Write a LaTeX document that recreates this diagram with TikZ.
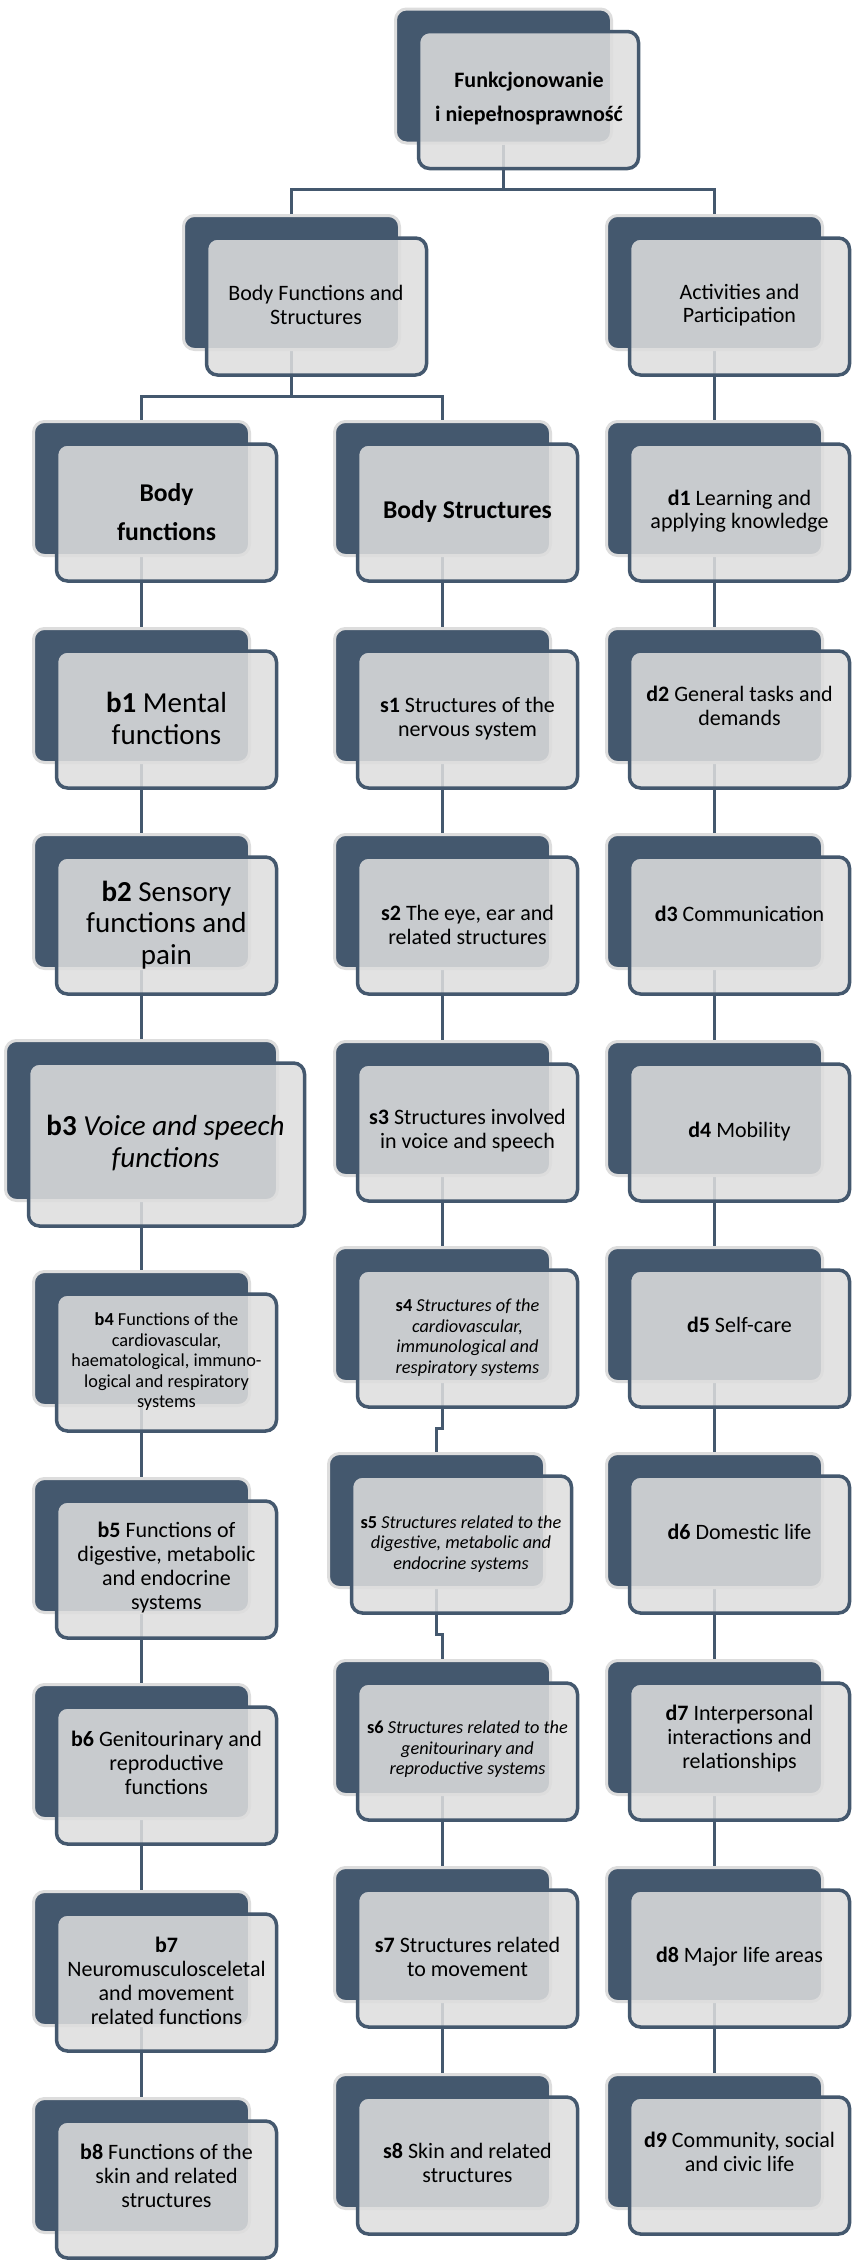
\documentclass[tikz,border=0pt]{standalone}
\usepackage{fontspec}
\setmainfont{Carlito}
\usetikzlibrary{calc}
\definecolor{icfdark}{HTML}{44586E}
\definecolor{icfhalo}{HTML}{DDDDDD}
\definecolor{icffill}{HTML}{DEDEDE}
\pgfdeclarelayer{background}
\pgfsetlayers{background,main}
\tikzset{
  backbox/.style={rectangle, rounded corners=11pt, fill=icfdark, draw=icfhalo, line width=3pt, inner sep=0pt},
  frontbox/.style={rectangle, rounded corners=11pt, fill=icffill, fill opacity=0.86, draw=icfdark, draw opacity=1, line width=3.5pt, inner sep=0pt},
  txt/.style={align=center, inner sep=0pt, text=black},
  link/.style={draw=icfdark, line width=3pt},
  fT/.style={font=\fontsize{22}{34}\selectfont\bfseries},
  fN/.style={font=\fontsize{22}{23.5}\selectfont},
  fM/.style={font=\fontsize{22}{24}\selectfont},
  fS/.style={font=\fontsize{18.3}{20.5}\selectfont},
  fL/.style={font=\fontsize{29}{31.5}\selectfont},
  fH/.style={font=\fontsize{25.6}{39}\selectfont\bfseries},
}
\newcommand\icfpair[5]{%
  \node[backbox, minimum width=#4pt, minimum height=#5pt] (#1-b) at (#2,#3) {};
  \node[frontbox, minimum width=#4pt+4pt, minimum height=#5pt+3pt] (#1-f) at (#2+25,#3+24) {};
}
\begin{document}
\begin{tikzpicture}[x=1pt, y=-1pt]
\useasboundingbox (0,0) rectangle (854,2262);

% ---- boxes ----
\icfpair{top}{503.5}{76}{216}{134}
\icfpair{bfs}{291.5}{282.5}{216}{134}
\icfpair{ap}{714.5}{282.5}{216}{134}

\icfpair{bf}{141.5}{488.5}{216}{134}
\icfpair{bs}{442.5}{488.5}{216}{134}
\icfpair{d1}{714.5}{488.5}{216}{134}

\icfpair{b1}{141.5}{695.5}{216}{134}
\icfpair{s1}{442.5}{695.5}{216}{134}
\icfpair{d2}{714.5}{695.5}{216}{134}

\icfpair{b2}{141.5}{901.5}{216}{134}
\icfpair{s2}{442.5}{901.5}{216}{134}
\icfpair{d3}{714.5}{901.5}{216}{134}

\icfpair{b3}{141.5}{1120.5}{272}{160}
\icfpair{s3}{442.5}{1108.5}{216}{134}
\icfpair{d4}{714.5}{1108.5}{216}{134}

\icfpair{b4}{141.5}{1338.5}{216}{134}
\icfpair{s4}{442.5}{1314.5}{216}{134}
\icfpair{d5}{714.5}{1314.5}{216}{134}

\icfpair{b5}{141.5}{1545.5}{216}{134}
\icfpair{s5}{436.5}{1520.5}{216}{134}
\icfpair{d6}{714.5}{1520.5}{216}{134}

\icfpair{b6}{141.5}{1751.5}{216}{134}
\icfpair{s6}{442.5}{1727.5}{216}{134}
\icfpair{d7}{714.5}{1727.5}{216}{134}

\icfpair{b7}{141.5}{1958.5}{216}{134}
\icfpair{s7}{442.5}{1934.5}{216}{134}
\icfpair{d8}{714.5}{1934.5}{216}{134}

\icfpair{b8}{141.5}{2165.5}{216}{134}
\icfpair{s8}{442.5}{2141.5}{216}{134}
\icfpair{d9}{714.5}{2141.5}{216}{134}

% ---- texts ----
\node[txt, fT] (top-t) at (529,99) {Funkcjonowanie\\i niepełnosprawność};
\node[txt, fN] (bfs-t) at (316,305) {Body Functions and\\Structures};
\node[txt, fN] (ap-t) at (739.5,305) {Activities and\\Participation};

\node[txt, fH] (bf-t) at (166.5,512) {Body\\functions};
\node[txt, fH] (bs-t) at (467.5,512) {Body Structures};
\node[txt, fN] (d1-t) at (739.5,511) {\textbf{d1} Learning and\\applying knowledge};

\node[txt, fL] (b1-t) at (166.5,718.5) {\textbf{b1} Mental\\functions};
\node[txt, fM] (s1-t) at (467.5,719) {\textbf{s1} Structures of the\\nervous system};
\node[txt, fM] (d2-t) at (739.5,706) {\textbf{d2} General tasks and\\demands};

\node[txt, fL] (b2-t) at (166.5,925) {\textbf{b2} Sensory\\functions and\\pain};
\node[txt, fM] (s2-t) at (467.5,925.4) {\textbf{s2} The eye, ear and\\related structures};
\node[txt, fM] (d3-t) at (739.5,913.4) {\textbf{d3} Communication};

\node[txt, fL] (b3-t) at (165.5,1143) {\textbf{b3} \textit{Voice and speech}\\\textit{functions}};
\node[txt, fM] (s3-t) at (467.5,1131) {\textbf{s3} Structures involved\\in voice and speech};
\node[txt, fM] (d4-t) at (739.5,1132) {\textbf{d4} Mobility};

\node[txt, fS] (b4-t) at (166.5,1362) {\textbf{b4} Functions of the\\cardiovascular,\\haematological, immuno-\\logical and respiratory\\systems};
\node[txt, fS] (s4-t) at (467.5,1337.5) {\textbf{s4} \textit{Structures of the}\\\textit{cardiovascular,}\\\textit{immunological and}\\\textit{respiratory systems}};
\node[txt, fM] (d5-t) at (739.5,1325) {\textbf{d5} Self-care};

\node[txt, fM] (b5-t) at (166.5,1567.5) {\textbf{b5} Functions of\\digestive, metabolic\\and endocrine\\systems};
\node[txt, fS] (s5-t) at (461,1544) {\textbf{s5} \textit{Structures related to the}\\\textit{digestive, metabolic and}\\\textit{endocrine systems}};
\node[txt, fM] (d6-t) at (739.5,1531.7) {\textbf{d6} Domestic life};

\node[txt, fM] (b6-t) at (166.5,1763) {\textbf{b6} Genitourinary and\\reproductive\\functions};
\node[txt, fS] (s6-t) at (467.5,1749.5) {\textbf{s6} \textit{Structures related to the}\\\textit{genitourinary and}\\\textit{reproductive systems}};
\node[txt, fM] (d7-t) at (739.5,1738.5) {\textbf{d7} Interpersonal\\interactions and\\relationships};

\node[txt, fM] (b7-t) at (166.5,1981) {\textbf{b7}\\Neuromusculosceletal\\and movement\\related functions};
\node[txt, fM] (s7-t) at (467.5,1956.7) {\textbf{s7} Structures related\\to movement};
\node[txt, fM] (d8-t) at (739.5,1956.7) {\textbf{d8} Major life areas};

\node[txt, fM] (b8-t) at (166.5,2176) {\textbf{b8} Functions of the\\skin and related\\structures};
\node[txt, fM] (s8-t) at (467.5,2163.4) {\textbf{s8} Skin and related\\structures};
\node[txt, fM] (d9-t) at (739.5,2151.7) {\textbf{d9} Community, social\\and civic life};

% ---- connectors (behind the boxes) ----
\begin{pgfonlayer}{background}
  \fill[white] (0,0) rectangle (854,2262);
  \draw[link] (top-b.south) |- ($(top-b.south |- top-f.south)!.45!(bfs-b.north)$) -| (bfs-b.north);
  \draw[link] (top-b.south) |- ($(top-b.south |- top-f.south)!.45!(ap-b.north)$) -| (ap-b.north);
  \draw[link] (bfs-b.south) |- ($(bfs-b.south |- bfs-f.south)!.45!(bf-b.north)$) -| (bf-b.north);
  \draw[link] (bfs-b.south) |- ($(bfs-b.south |- bfs-f.south)!.45!(bs-b.north)$) -| (bs-b.north);
  \draw[link] (ap-b.south) -- (d1-b.north);
  % body functions column
  \draw[link] (bf-b.south) -- (b1-b.north);
  \draw[link] (b1-b.south) -- (b2-b.north);
  \draw[link] (b2-b.south) -- (b3-b.north);
  \draw[link] (b3-b.south) -- (b4-b.north);
  \draw[link] (b4-b.south) -- (b5-b.north);
  \draw[link] (b5-b.south) -- (b6-b.north);
  \draw[link] (b6-b.south) -- (b7-b.north);
  \draw[link] (b7-b.south) -- (b8-b.north);
  % body structures column
  \draw[link] (bs-b.south) -- (s1-b.north);
  \draw[link] (s1-b.south) -- (s2-b.north);
  \draw[link] (s2-b.south) -- (s3-b.north);
  \draw[link] (s3-b.south) -- (s4-b.north);
  \draw[link] (s4-b.south) |- ($(s4-b.south |- s4-f.south)!.45!(s5-b.north)$) -| (s5-b.north);
  \draw[link] (s5-b.south) |- ($(s5-b.south |- s5-f.south)!.45!(s6-b.north)$) -| (s6-b.north);
  \draw[link] (s6-b.south) -- (s7-b.north);
  \draw[link] (s7-b.south) -- (s8-b.north);
  % activities column
  \draw[link] (d1-b.south) -- (d2-b.north);
  \draw[link] (d2-b.south) -- (d3-b.north);
  \draw[link] (d3-b.south) -- (d4-b.north);
  \draw[link] (d4-b.south) -- (d5-b.north);
  \draw[link] (d5-b.south) -- (d6-b.north);
  \draw[link] (d6-b.south) -- (d7-b.north);
  \draw[link] (d7-b.south) -- (d8-b.north);
  \draw[link] (d8-b.south) -- (d9-b.north);
\end{pgfonlayer}
\end{tikzpicture}
\end{document}
